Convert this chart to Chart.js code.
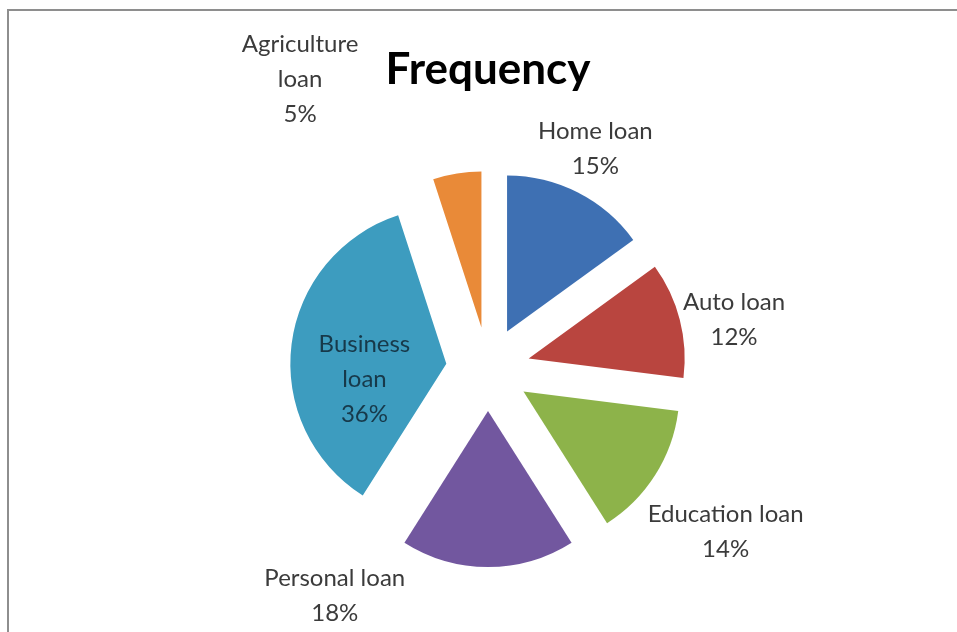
<!DOCTYPE html>
<html>
<head>
<meta charset="utf-8">
<title>Frequency</title>
<script src="https://cdn.jsdelivr.net/npm/chart.js@4.4.0/dist/chart.umd.min.js"></script>
<style>
  html, body { margin: 0; padding: 0; background: #fff; }
  #wrap { position: relative; width: 957px; height: 632px; overflow: hidden; }
  #frame { position: absolute; left: 7px; top: 9px; right: -10px; bottom: -10px;
           border-left: 2px solid #8e8e8e; border-top: 2px solid #8e8e8e; }
  canvas { position: absolute; left: 0; top: 0; }
</style>
</head>
<body>
<div id="wrap">
  <div id="frame"></div>
  <canvas id="loanChart" width="957" height="632"></canvas>
</div>
<script>
var loanTypes = ["Home loan", "Auto loan", "Education loan", "Personal loan", "Business loan", "Agriculture loan"];
var loanShare = [15, 12, 14, 18, 36, 5];
var sliceColors = ["#3e70b3", "#b9453f", "#8db34a", "#72579f", "#3d9cbf", "#e98a38"];

// label placement: turn away from the slice middle (deg), distance from centre (px)
var labelSpots = [
    { turn: -1, dist: 245 },
    { turn: 3, dist: 251 },
    { turn: 2, dist: 288 },
    { turn: 34, dist: 274 },
    { turn: -12, dist: 124, wrap: true, inside: true },
    { turn: -24, dist: 345, wrap: true }
];

// pull every slice out from the centre by the same distance
var explode = {
    id: 'explode',
    beforeDatasetDraw: function (chart, args, opts) {
        var ctx = chart.ctx;
        args.meta.data.forEach(function (arc) {
            var mid = (arc.startAngle + arc.endAngle) / 2;
            ctx.save();
            ctx.translate(Math.cos(mid) * opts.distance, Math.sin(mid) * opts.distance);
            arc.draw(ctx);
            ctx.restore();
        });
        return false;
    }
};

var sliceLabels = {
    id: 'sliceLabels',
    afterDatasetsDraw: function (chart) {
        var ctx = chart.ctx;
        var values = chart.data.datasets[0].data;
        var total = values.reduce(function (a, b) { return a + b; }, 0);
        ctx.save();
        ctx.font = '24px Lato';
        ctx.textAlign = 'center';
        ctx.textBaseline = 'middle';
        chart.getDatasetMeta(0).data.forEach(function (arc, i) {
            var spot = labelSpots[i];
            var name = chart.data.labels[i];
            var lines = spot.wrap ? name.split(' ') : [name];
            lines.push(Math.round(values[i] / total * 100) + '%');
            var a = (arc.startAngle + arc.endAngle) / 2 + spot.turn * Math.PI / 180;
            var x = arc.x + Math.cos(a) * spot.dist;
            var y = arc.y + Math.sin(a) * spot.dist - (lines.length - 1) * 35 / 2;
            ctx.fillStyle = spot.inside ? '#17394a' : '#3b3b3b';
            lines.forEach(function (t, k) {
                ctx.fillText(t, x, y + k * 35);
            });
        });
        ctx.restore();
    }
};

var ctx = document.getElementById('loanChart').getContext('2d');
var loanChart = new Chart(ctx, {
    type: 'pie',
    data: {
        labels: loanTypes,
        datasets: [{
            data: loanShare,
            backgroundColor: sliceColors,
            borderWidth: 0,
            clip: false
        }]
    },
    options: {
        responsive: false,
        animation: false,
        events: [],
        radius: 156,
        layout: { padding: { left: 19, right: 0, top: 0, bottom: 0 } },
        plugins: {
            legend: { display: false },
            tooltip: { enabled: false },
            title: {
                display: true,
                text: 'Frequency',
                color: '#000',
                font: { family: 'Lato', size: 44, weight: 'bold', lineHeight: 1.2 },
                padding: { top: 43, bottom: 10.2 }
            },
            explode: { distance: 42 }
        }
    },
    plugins: [explode, sliceLabels]
});
</script>
</body>
</html>
